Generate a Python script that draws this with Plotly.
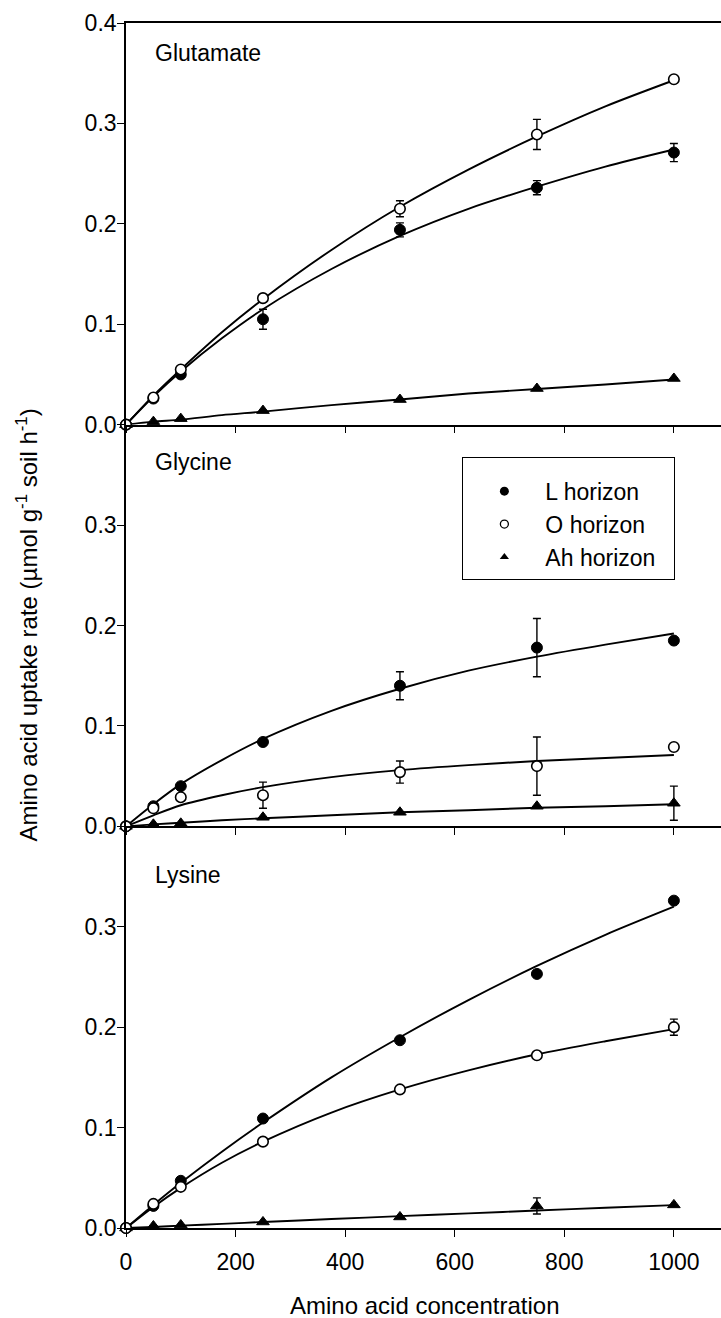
import plotly.graph_objects as go
from plotly.subplots import make_subplots

# ---------------- data ----------------
panels = ["Glutamate", "Glycine", "Lysine"]
series = ["L horizon", "O horizon", "Ah horizon"]

conc = [0, 50, 100, 250, 500, 750, 1000]

# measured uptake (µmol g-1 soil h-1)
glu_L = [0, 0.026, 0.050, 0.105, 0.194, 0.236, 0.271]
glu_L_err = [0, 0, 0, 0.010, 0.007, 0.007, 0.009]
glu_O = [0, 0.027, 0.055, 0.126, 0.215, 0.289, 0.344]
glu_O_err = [0, 0, 0, 0, 0.008, 0.015, 0]
glu_Ah = [0, 0.003, 0.006, 0.014, 0.025, 0.036, 0.046]
glu_Ah_err = [0, 0, 0, 0, 0, 0, 0]

gly_L = [0, 0.020, 0.040, 0.084, 0.140, 0.178, 0.185]
gly_L_err = [0, 0, 0, 0, 0.014, 0.029, 0]
gly_O = [0, 0.018, 0.029, 0.031, 0.054, 0.060, 0.079]
gly_O_err = [0, 0, 0, 0.013, 0.011, 0.029, 0]
gly_Ah = [0, 0.002, 0.003, 0.009, 0.014, 0.020, 0.023]
gly_Ah_err = [0, 0, 0, 0, 0, 0, 0.017]

lys_L = [0, 0.022, 0.047, 0.109, 0.187, 0.253, 0.326]
lys_L_err = [0, 0, 0, 0, 0, 0, 0]
lys_O = [0, 0.024, 0.041, 0.086, 0.138, 0.172, 0.200]
lys_O_err = [0, 0, 0, 0, 0, 0, 0.008]
lys_Ah = [0, 0.002, 0.003, 0.006, 0.011, 0.022, 0.023]
lys_Ah_err = [0, 0, 0, 0, 0, 0.008, 0]

# fitted curves
fit_x = [0, 50, 100, 175, 250, 375, 500, 625, 750, 875, 1000]
glu_L_fit = [0, 0.028, 0.053, 0.086, 0.115, 0.155, 0.188, 0.215, 0.237, 0.257, 0.274]
glu_O_fit = [0, 0.029, 0.055, 0.092, 0.125, 0.174, 0.217, 0.254, 0.287, 0.317, 0.343]
glu_Ah_fit = [0, 0.003, 0.005, 0.0095, 0.013, 0.0195, 0.025, 0.031, 0.0355, 0.040, 0.045]
gly_L_fit = [0, 0.022, 0.042, 0.066, 0.087, 0.115, 0.137, 0.155, 0.169, 0.181, 0.192]
gly_O_fit = [0, 0.011, 0.021, 0.031, 0.039, 0.049, 0.056, 0.061, 0.065, 0.068, 0.071]
gly_Ah_fit = [0, 0.002, 0.0036, 0.006, 0.008, 0.011, 0.014, 0.016, 0.0185, 0.020, 0.022]
lys_L_fit = [0, 0.023, 0.045, 0.076, 0.105, 0.150, 0.190, 0.227, 0.261, 0.292, 0.320]
lys_O_fit = [0, 0.021, 0.040, 0.065, 0.086, 0.115, 0.138, 0.157, 0.173, 0.186, 0.198]
lys_Ah_fit = [0, 0.001, 0.0024, 0.0041, 0.006, 0.0089, 0.0118, 0.0146, 0.0174, 0.0201, 0.0228]

x_ticks = [0, 200, 400, 600, 800, 1000]
y_ticks_top = [0.0, 0.1, 0.2, 0.3, 0.4]
y_ticks_low = [0.0, 0.1, 0.2, 0.3]

panel_data = [
    ([glu_L, glu_O, glu_Ah], [glu_L_err, glu_O_err, glu_Ah_err], [glu_L_fit, glu_O_fit, glu_Ah_fit]),
    ([gly_L, gly_O, gly_Ah], [gly_L_err, gly_O_err, gly_Ah_err], [gly_L_fit, gly_O_fit, gly_Ah_fit]),
    ([lys_L, lys_O, lys_Ah], [lys_L_err, lys_O_err, lys_Ah_err], [lys_L_fit, lys_O_fit, lys_Ah_fit]),
]
label_y = [0.370, 0.363, 0.352]

# ---------------- styles ----------------
FONT = "Arial, Liberation Sans, sans-serif"
marker_styles = {
    "L horizon": dict(symbol="circle", size=11, color="black", line=dict(color="black", width=1)),
    "O horizon": dict(symbol="circle", size=10.5, color="white", line=dict(color="black", width=1.6)),
    "Ah horizon": dict(symbol="triangle-up", size=11, color="black", line=dict(color="black", width=1)),
}
legend_marker = {
    "L horizon": dict(symbol="circle", size=9, color="black"),
    "O horizon": dict(symbol="circle", size=8, color="white", line=dict(color="black", width=1.3)),
    "Ah horizon": dict(symbol="triangle-up", size=8, color="black"),
}

fig = make_subplots(rows=3, cols=1, shared_xaxes=True, vertical_spacing=0)

draw_order = [2, 0, 1]  # Ah, L, O on top
for r, (vals, errs, fits) in enumerate(panel_data, start=1):
    for i in draw_order:
        fig.add_trace(go.Scatter(
            x=fit_x, y=fits[i], mode="lines",
            line=dict(color="black", width=1.9, shape="spline", smoothing=0.8),
            showlegend=False, hoverinfo="skip", cliponaxis=False), row=r, col=1)
    for i in draw_order:
        name = series[i]
        fig.add_trace(go.Scatter(
            x=conc, y=vals[i], mode="markers", name=name,
            marker=marker_styles[name],
            error_y=dict(type="data", array=errs[i], visible=True,
                         color="black", thickness=1.4, width=4),
            showlegend=False, cliponaxis=False), row=r, col=1)

# legend-only entries
NB = "\u00a0"
for name in series:
    fig.add_trace(go.Scatter(x=[None], y=[None], mode="markers", name=name + NB * 2,
                             marker=legend_marker[name], showlegend=True), row=2, col=1)

for r in range(1, 4):
    fig.update_xaxes(row=r, col=1, range=[0, 1086], tickvals=x_ticks,
                     showline=True, linecolor="black", linewidth=1.6,
                     ticks="outside", ticklen=7, tickwidth=1.3, tickcolor="black",
                     showgrid=False, zeroline=False,
                     mirror=(r == 1),
                     showticklabels=(r == 3),
                     tickfont=dict(family=FONT, size=23, color="black"),
                     ticklabelstandoff=6)
    fig.update_yaxes(row=r, col=1, range=[0, 0.4],
                     tickvals=(y_ticks_top if r == 1 else y_ticks_low),
                     tickformat=".1f",
                     showline=True, linecolor="black", linewidth=1.6,
                     ticks="outside", ticklen=7, tickwidth=1.3, tickcolor="black",
                     showgrid=False, zeroline=False,
                     tickfont=dict(family=FONT, size=23, color="black"),
                     ticklabelstandoff=-4)

for r, lab in enumerate(panels, start=1):
    fig.add_annotation(text=lab, x=50, y=label_y[r - 1],
                       xref=f"x{'' if r == 1 else r}", yref=f"y{'' if r == 1 else r}",
                       xanchor="left", yanchor="middle", showarrow=False,
                       font=dict(family=FONT, size=23, color="black"))

fig.add_annotation(text="Amino acid uptake rate (µmol g<sup>-1</sup> soil h<sup>-1</sup>)",
                   x=-0.168, y=0.5, xref="paper", yref="paper", textangle=-90,
                   xanchor="center", yanchor="middle", showarrow=False,
                   font=dict(family=FONT, size=24, color="black"))
fig.add_annotation(text="Amino acid concentration",
                   x=0.5025, y=-0.0645, xref="paper", yref="paper",
                   xanchor="center", yanchor="middle", showarrow=False,
                   font=dict(family=FONT, size=24, color="black"))

fig.update_layout(
    width=721, height=1318,
    margin=dict(l=126, r=0, t=23, b=90, autoexpand=False),
    paper_bgcolor="white", plot_bgcolor="white",
    font=dict(family=FONT, size=23, color="black"),
    legend=dict(x=0.565, y=0.640, xanchor="left", yanchor="top",
                bordercolor="black", borderwidth=1.2, bgcolor="white",
                font=dict(family=FONT, size=23, color="black"),
                title=dict(text=" ", font=dict(size=9)),
                itemwidth=72, tracegroupgap=0),
)

fig.write_html("out.html",
               config={"displayModeBar": False},
               post_script="document.body.style.margin='0';document.body.style.overflow='hidden';")
